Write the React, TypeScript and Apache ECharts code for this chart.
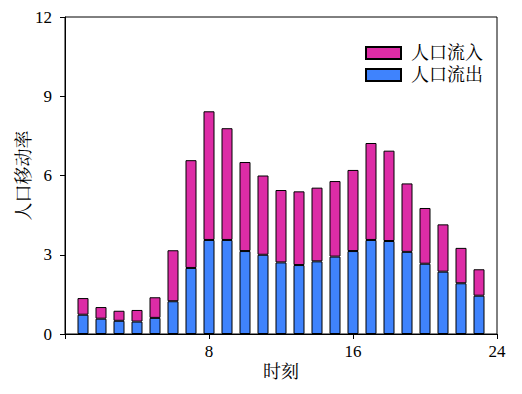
import React, { useEffect, useRef } from "react";
import * as echarts from "echarts";

const hourCategories = ["0", "1", "2", "3", "4", "5", "6", "7", "8", "9", "10", "11", "12", "13", "14", "15", "16", "17", "18", "19", "20", "21", "22", "23", "24"];
const hours = [1, 2, 3, 4, 5, 6, 7, 8, 9, 10, 11, 12, 13, 14, 15, 16, 17, 18, 19, 20, 21, 22, 23];
const outflow = [0.73, 0.58, 0.5, 0.47, 0.61, 1.24, 2.5, 3.56, 3.56, 3.14, 3.0, 2.71, 2.61, 2.75, 2.93, 3.14, 3.56, 3.52, 3.11, 2.66, 2.36, 1.92, 1.45];
const inflow = [0.63, 0.44, 0.38, 0.44, 0.78, 1.93, 4.08, 4.87, 4.23, 3.37, 3.0, 2.74, 2.79, 2.79, 2.86, 3.07, 3.67, 3.42, 2.59, 2.11, 1.79, 1.34, 1.0];
const xTickStep = 8;
const seriesNames = ["人口流入", "人口流出"];
const xAxisName = "时刻";
const yAxisName = "人口移动率";

const FONT = "'Liberation Serif', 'Noto Serif CJK SC', 'Noto Sans CJK SC', serif";

function toCategoryData(values: number[]) {
  return hourCategories.map((c) => {
    const idx = hours.indexOf(Number(c));
    return idx >= 0 ? values[idx] : null;
  });
}

export default function App() {
  const ref = useRef<HTMLDivElement>(null);
  useEffect(() => {
    if (!ref.current) return;
    const chart = echarts.init(ref.current, null, { renderer: "svg" });
    chart.setOption({
      animation: false,
      textStyle: { fontFamily: FONT, color: "#000" },
      grid: {
        left: 65,
        right: 25,
        top: 17,
        bottom: 60,
        show: true,
        borderColor: "#000",
        borderWidth: 1,
        backgroundColor: "transparent",
      },
      legend: {
        data: seriesNames,
        orient: "vertical",
        right: 34,
        top: 39,
        icon: "rect",
        itemWidth: 35,
        itemHeight: 12,
        itemGap: 4,
        textStyle: { fontFamily: FONT, fontSize: 18, color: "#000", padding: [0, 0, 0, 5] },
      },
      xAxis: {
        type: "category",
        data: hourCategories,
        boundaryGap: false,
        name: xAxisName,
        nameLocation: "middle",
        nameGap: 29,
        nameMoveOverlap: false,
        nameTextStyle: { fontFamily: FONT, fontSize: 18, color: "#000" },
        axisLine: { show: true, lineStyle: { color: "#000", width: 1 } },
        axisTick: {
          show: true,
          length: 5,
          interval: (i: number) => i % xTickStep === 0,
          lineStyle: { color: "#000" },
        },
        axisLabel: {
          interval: (i: number) => i % xTickStep === 0 && i > 0,
          fontSize: 17,
          color: "#000",
          fontFamily: FONT,
          margin: 9,
        },
        splitLine: { show: false },
      },
      yAxis: {
        type: "value",
        min: 0,
        max: 12,
        interval: 3,
        name: yAxisName,
        nameLocation: "middle",
        nameGap: 32,
        nameMoveOverlap: false,
        nameTextStyle: { fontFamily: FONT, fontSize: 18, color: "#000" },
        axisLine: { show: true, lineStyle: { color: "#000", width: 1 } },
        axisTick: { show: true, length: 5, lineStyle: { color: "#000" } },
        axisLabel: { fontSize: 17, color: "#000", fontFamily: FONT, margin: 13 },
        splitLine: { show: false },
      },
      series: [
        {
          name: seriesNames[1],
          type: "bar",
          stack: "total",
          barWidth: 11,
          itemStyle: { color: "#3f83fd", borderColor: "#000", borderWidth: 1 },
          data: toCategoryData(outflow),
        },
        {
          name: seriesNames[0],
          type: "bar",
          stack: "total",
          barWidth: 11,
          itemStyle: { color: "#dd2ca6", borderColor: "#000", borderWidth: 1 },
          data: toCategoryData(inflow),
        },
      ],
    });
    return () => chart.dispose();
  }, []);
  return <div ref={ref} style={{ width: 522, height: 394, position: "absolute", left: 0, top: 0 }} />;
}
